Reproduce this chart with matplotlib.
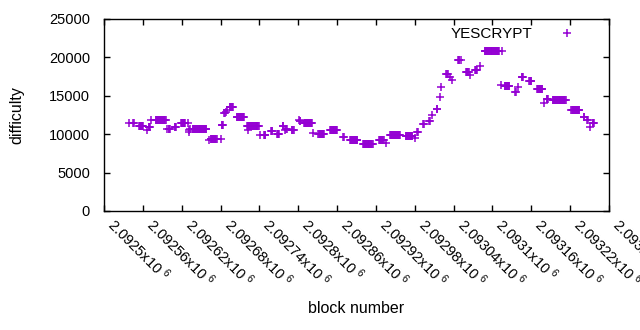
import numpy as np
import matplotlib
matplotlib.use("Agg")
import matplotlib.pyplot as plt

plt.rcParams['font.family'] = ['Liberation Sans', 'DejaVu Sans']
plt.rcParams['mathtext.fontset'] = 'custom'
plt.rcParams['mathtext.rm'] = 'Liberation Sans'
plt.rcParams['mathtext.it'] = 'Liberation Sans'

# difficulty is constant over runs of blocks: first block, last block, difficulty
run_start = [2092538, 2092545, 2092554, 2092566, 2092569, 2092573, 2092580, 2092597,
             2092600, 2092609, 2092619, 2092630, 2092631, 2092632, 2092633, 2092637,
             2092662, 2092665, 2092680, 2092682, 2092686, 2092687, 2092689, 2092690,
             2092694, 2092705, 2092721, 2092722, 2092741, 2092747, 2092758, 2092767,
             2092776, 2092780, 2092781, 2092790, 2092801, 2092802, 2092809, 2092823,
             2092831, 2092849, 2092869, 2092880, 2092900, 2092925, 2092936, 2092942,
             2092966, 2092981, 2092984, 2092993, 2093002, 2093007, 2093014, 2093019,
             2093021, 2093029, 2093035, 2093037, 2093047, 2093051, 2093059, 2093065,
             2093073, 2093081, 2093088, 2093113, 2093115, 2093119, 2093135, 2093140,
             2093145, 2093157, 2093169, 2093180, 2093184, 2093193, 2093222, 2093241,
             2093246, 2093251, 2093255]
run_end = [2092538, 2092546, 2092560, 2092566, 2092571, 2092573, 2092595, 2092597,
           2092602, 2092611, 2092625, 2092630, 2092631, 2092632, 2092633, 2092658,
           2092662, 2092674, 2092680, 2092684, 2092686, 2092687, 2092689, 2092690,
           2092699, 2092716, 2092739, 2092722, 2092741, 2092749, 2092760, 2092770,
           2092777, 2092780, 2092782, 2092793, 2092801, 2092803, 2092821, 2092823,
           2092840, 2092860, 2092870, 2092891, 2092915, 2092932, 2092936, 2092957,
           2092976, 2092981, 2092985, 2092994, 2093003, 2093007, 2093015, 2093019,
           2093021, 2093031, 2093035, 2093037, 2093049, 2093051, 2093063, 2093065,
           2093076, 2093081, 2093110, 2093113, 2093115, 2093126, 2093136, 2093140,
           2093147, 2093160, 2093177, 2093180, 2093186, 2093213, 2093234, 2093242,
           2093247, 2093251, 2093257]
run_diff = [11400, 11400, 11070, 10550, 10940, 11900, 11900, 10680,
            10680, 11000, 11400, 11400, 10300, 10550, 10700, 10740,
            9250, 9440, 9440, 11200, 12700, 12800, 12900, 13100,
            13480, 12300, 11130, 10500, 9960, 9960, 10480, 10090,
            11130, 10500, 10680, 10610, 11850, 11780, 11400, 10160,
            10065, 10500, 9600, 9220, 8730, 9250, 8800, 9900,
            9765, 9500, 10300, 11350, 11700, 12500, 13300, 14880,
            16190, 17880, 17500, 17000, 19700, 19700, 18060, 17700,
            18400, 18880, 20833, 16400, 20800, 16340, 15500, 16200,
            17450, 16990, 15846, 14100, 14550, 14400, 13200, 12250,
            11800, 10900, 11500]

xtick_values = [2092500, 2092560, 2092620, 2092680, 2092740, 2092800, 2092860,
                2092920, 2092980, 2093040, 2093100, 2093160, 2093220, 2093280]
xtick_labels = ["2.0925", "2.09256", "2.09262", "2.09268", "2.09274", "2.0928", "2.09286",
                "2.09292", "2.09298", "2.09304", "2.0931", "2.09316", "2.09322", "2.09328"]
ytick_values = [0, 5000, 10000, 15000, 20000, 25000]

blocks = []
diffs = []
for s, e, d in zip(run_start, run_end, run_diff):
    for b in range(s, e + 1):
        blocks.append(b)
        diffs.append(d)

fig = plt.figure(figsize=(6.4, 3.3), dpi=100)
ax = fig.add_axes([104 / 640, 1 - 211 / 330, 505 / 640, 192 / 330])

ax.plot(blocks, diffs, linestyle='none', marker='+', markersize=6,
        markeredgewidth=1.1, color='#9400D3', label='YESCRYPT')

ax.set_xlim(2092500, 2093280)
ax.set_ylim(0, 25000)
ax.set_xticks(xtick_values)
ax.set_xticklabels([t + "x10 $^{6}$" for t in xtick_labels], rotation=-45,
                   ha='left', va='bottom', rotation_mode='anchor', fontsize=10.5)
ax.set_yticks(ytick_values)
ax.set_yticklabels([str(v) for v in ytick_values], fontsize=10.5)
ax.tick_params(direction='in', length=4, width=1, top=True, right=True)
ax.tick_params(axis='y', pad=10)
ax.tick_params(axis='x', pad=12)
for sp in ax.spines.values():
    sp.set_linewidth(1)

ax.set_xlabel("block number", fontsize=11.5, labelpad=8)
ax.set_ylabel("difficulty", fontsize=11.5, labelpad=18)

ax.legend(loc='upper right', bbox_to_anchor=(0.975, 1.03), frameon=False,
          markerfirst=False, handlelength=2, handletextpad=1.3, fontsize=11)

fig.savefig("out.png", dpi=100)
